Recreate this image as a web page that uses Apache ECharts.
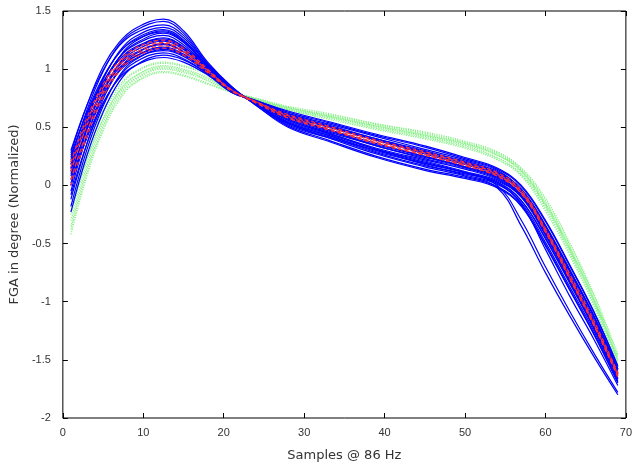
<!DOCTYPE html>
<html>
<head>
<meta charset="utf-8">
<script src="https://cdn.jsdelivr.net/npm/echarts@6/dist/echarts.min.js"></script>
<style>
  html, body { margin: 0; padding: 0; background: #fff; }
  #chart { width: 635px; height: 469px; }
</style>
</head>
<body>
<div id="chart"></div>
<script>
// sample positions shared by every curve
const samples = [1, 3, 5, 7, 9, 12.5, 15, 18, 21, 24, 28, 33, 39, 45, 50, 54, 57, 60, 63, 66, 69];

const xTicks = [0, 10, 20, 30, 40, 50, 60, 70];
const yTicks = [-2, -1.5, -1, -0.5, 0, 0.5, 1, 1.5];

// blue solid curves
const blueCurves = [
    [0.28, 0.69, 1.02, 1.23, 1.35, 1.43, 1.33, 1.06, 0.85, 0.69, 0.50, 0.38, 0.24, 0.13, 0.06, -0.02, -0.18, -0.52, -0.90, -1.28, -1.70],
    [0.22, 0.65, 0.98, 1.21, 1.33, 1.41, 1.31, 1.05, 0.85, 0.69, 0.51, 0.39, 0.25, 0.14, 0.07, -0.01, -0.17, -0.51, -0.89, -1.27, -1.69],
    [0.30, 0.69, 0.99, 1.20, 1.31, 1.38, 1.29, 1.04, 0.84, 0.70, 0.52, 0.41, 0.30, 0.18, 0.09, 0.01, -0.15, -0.49, -0.87, -1.25, -1.68],
    [0.12, 0.57, 0.91, 1.15, 1.28, 1.36, 1.27, 1.04, 0.84, 0.70, 0.53, 0.42, 0.28, 0.17, 0.10, 0.02, -0.16, -0.55, -0.95, -1.32, -1.72],
    [0.18, 0.60, 0.92, 1.14, 1.26, 1.34, 1.25, 1.03, 0.84, 0.70, 0.54, 0.43, 0.29, 0.19, 0.11, 0.03, -0.13, -0.46, -0.84, -1.23, -1.66],
    [0.24, 0.63, 0.93, 1.14, 1.25, 1.32, 1.23, 1.02, 0.83, 0.70, 0.53, 0.41, 0.27, 0.16, 0.08, -0.02, -0.35, -0.75, -1.12, -1.47, -1.80],
    [0.05, 0.50, 0.86, 1.10, 1.22, 1.31, 1.23, 1.02, 0.83, 0.70, 0.55, 0.44, 0.31, 0.21, 0.12, 0.04, -0.10, -0.40, -0.78, -1.17, -1.61],
    [0.15, 0.56, 0.88, 1.10, 1.21, 1.29, 1.21, 1.01, 0.83, 0.71, 0.56, 0.45, 0.32, 0.22, 0.14, 0.05, -0.10, -0.43, -0.81, -1.20, -1.64],
    [-0.05, 0.43, 0.79, 1.05, 1.18, 1.27, 1.19, 1.01, 0.83, 0.71, 0.57, 0.46, 0.34, 0.23, 0.15, 0.06, -0.09, -0.41, -0.79, -1.18, -1.63],
    [0.20, 0.58, 0.88, 1.08, 1.19, 1.26, 1.19, 1.00, 0.82, 0.71, 0.56, 0.45, 0.31, 0.20, 0.11, 0.00, -0.30, -0.70, -1.08, -1.44, -1.78],
    [0.08, 0.50, 0.82, 1.04, 1.16, 1.24, 1.17, 1.00, 0.82, 0.71, 0.58, 0.48, 0.36, 0.25, 0.16, 0.08, -0.08, -0.39, -0.77, -1.16, -1.61],
    [-0.12, 0.36, 0.74, 0.99, 1.13, 1.22, 1.15, 0.99, 0.82, 0.72, 0.59, 0.51, 0.39, 0.27, 0.18, 0.09, -0.06, -0.38, -0.76, -1.15, -1.60],
    [0.14, 0.53, 0.82, 1.03, 1.14, 1.21, 1.15, 0.99, 0.82, 0.72, 0.59, 0.48, 0.34, 0.24, 0.16, 0.07, -0.09, -0.42, -0.82, -1.22, -1.66],
    [0.00, 0.43, 0.76, 0.99, 1.11, 1.19, 1.13, 0.98, 0.81, 0.72, 0.60, 0.50, 0.39, 0.28, 0.19, 0.10, -0.05, -0.36, -0.74, -1.13, -1.59],
    [-0.18, 0.31, 0.68, 0.94, 1.08, 1.17, 1.12, 0.97, 0.81, 0.72, 0.61, 0.51, 0.40, 0.30, 0.20, 0.11, -0.04, -0.35, -0.73, -1.12, -1.58],
    [0.10, 0.48, 0.78, 0.98, 1.09, 1.16, 1.11, 0.97, 0.81, 0.72, 0.61, 0.52, 0.40, 0.29, 0.21, 0.12, -0.03, -0.34, -0.72, -1.12, -1.58],
    [-0.08, 0.36, 0.70, 0.93, 1.06, 1.14, 1.09, 0.96, 0.81, 0.73, 0.62, 0.53, 0.42, 0.31, 0.22, 0.13, -0.04, -0.37, -0.77, -1.18, -1.62],
    [-0.23, 0.26, 0.63, 0.89, 1.03, 1.12, 1.08, 0.96, 0.80, 0.73, 0.63, 0.54, 0.43, 0.33, 0.23, 0.14, -0.01, -0.31, -0.69, -1.09, -1.56],
    [0.02, 0.41, 0.71, 0.92, 1.03, 1.10, 1.06, 0.95, 0.80, 0.73, 0.64, 0.55, 0.44, 0.34, 0.24, 0.15, 0.00, -0.30, -0.68, -1.08, -1.55],
    [0.00, 0.48, 0.85, 1.10, 1.24, 1.33, 1.24, 1.03, 0.84, 0.70, 0.54, 0.43, 0.30, 0.19, 0.11, 0.03, -0.13, -0.45, -0.83, -1.22, -1.66],
    [0.26, 0.62, 0.89, 1.08, 1.18, 1.25, 1.18, 1.00, 0.82, 0.71, 0.58, 0.47, 0.35, 0.25, 0.16, 0.07, -0.08, -0.40, -0.78, -1.17, -1.62],
    [0.18, 0.54, 0.82, 1.01, 1.11, 1.18, 1.12, 0.97, 0.81, 0.72, 0.61, 0.51, 0.39, 0.29, 0.20, 0.11, -0.04, -0.35, -0.73, -1.12, -1.58]
];

// red dashed curves
const redCurves = [
    [0.20, 0.58, 0.87, 1.07, 1.18, 1.25, 1.18, 1.00, 0.82, 0.71, 0.58, 0.48, 0.36, 0.26, 0.17, 0.08, -0.07, -0.40, -0.80, -1.20, -1.64],
    [0.12, 0.52, 0.82, 1.03, 1.14, 1.22, 1.15, 0.99, 0.82, 0.72, 0.59, 0.49, 0.37, 0.27, 0.18, 0.09, -0.06, -0.39, -0.79, -1.19, -1.63],
    [0.05, 0.46, 0.79, 1.00, 1.12, 1.20, 1.14, 0.98, 0.82, 0.72, 0.60, 0.50, 0.38, 0.28, 0.19, 0.10, -0.05, -0.38, -0.78, -1.18, -1.62],
    [0.00, 0.42, 0.76, 0.98, 1.10, 1.18, 1.12, 0.97, 0.81, 0.72, 0.61, 0.51, 0.39, 0.29, 0.20, 0.11, -0.04, -0.37, -0.76, -1.16, -1.61],
    [0.16, 0.55, 0.84, 1.05, 1.16, 1.23, 1.16, 0.99, 0.82, 0.71, 0.58, 0.48, 0.36, 0.26, 0.17, 0.08, -0.07, -0.40, -0.80, -1.20, -1.65]
];

// green dotted curves
const greenCurves = [
    [-0.10, 0.32, 0.64, 0.86, 0.98, 1.06, 1.03, 0.96, 0.81, 0.73, 0.65, 0.57, 0.48, 0.40, 0.32, 0.22, 0.08, -0.22, -0.60, -1.04, -1.56],
    [-0.18, 0.26, 0.61, 0.84, 0.97, 1.05, 1.02, 0.95, 0.81, 0.73, 0.65, 0.58, 0.49, 0.41, 0.33, 0.23, 0.09, -0.20, -0.58, -1.02, -1.54],
    [-0.25, 0.21, 0.57, 0.81, 0.94, 1.03, 1.00, 0.93, 0.81, 0.74, 0.66, 0.59, 0.50, 0.42, 0.34, 0.24, 0.10, -0.18, -0.56, -1.00, -1.52],
    [-0.30, 0.17, 0.54, 0.79, 0.92, 1.01, 0.98, 0.91, 0.81, 0.74, 0.66, 0.59, 0.51, 0.43, 0.35, 0.26, 0.12, -0.17, -0.55, -0.99, -1.51],
    [-0.35, 0.14, 0.51, 0.77, 0.91, 1.00, 0.97, 0.90, 0.80, 0.74, 0.67, 0.60, 0.52, 0.44, 0.36, 0.27, 0.13, -0.15, -0.53, -0.97, -1.49],
    [-0.38, 0.11, 0.49, 0.75, 0.89, 0.98, 0.95, 0.88, 0.80, 0.75, 0.67, 0.61, 0.53, 0.45, 0.37, 0.28, 0.14, -0.13, -0.51, -0.95, -1.47],
    [-0.42, 0.08, 0.47, 0.73, 0.88, 0.97, 0.94, 0.87, 0.80, 0.75, 0.68, 0.62, 0.53, 0.46, 0.38, 0.29, 0.15, -0.11, -0.49, -0.93, -1.45],
    [-0.22, 0.23, 0.57, 0.81, 0.94, 1.02, 0.99, 0.92, 0.81, 0.74, 0.67, 0.60, 0.51, 0.43, 0.36, 0.26, 0.12, -0.16, -0.54, -0.98, -1.50]
];

const chart = echarts.init(document.getElementById('chart'));

const toPoints = (vals) => samples.map((x, i) => [x, vals[i]]);

function makeSeries(curves, color, type, width) {
    return curves.map((c) => ({
        type: 'line',
        data: toPoints(c),
        smooth: 0.4,
        showSymbol: false,
        silent: true,
        lineStyle: { color: color, width: width, type: type }
    }));
}

const tickFont = { color: '#333', fontSize: 11, fontFamily: 'Liberation Sans' };
const tickStyle = { show: true, inside: true, length: 5, lineStyle: { color: '#000' } };

chart.setOption({
    animation: false,
    grid: {
        left: 57, right: 8, top: 11, bottom: 51,
        show: true, borderColor: '#000', borderWidth: 1
    },
    xAxis: [
        {
            type: 'value', min: 0, max: 70, interval: 10,
            axisLine: { show: false, onZero: false },
            axisTick: tickStyle,
            axisLabel: Object.assign({ margin: 9 }, tickFont),
            splitLine: { show: false },
            name: 'Samples @ 86 Hz',
            nameLocation: 'middle',
            nameGap: 31,
            nameTextStyle: { color: '#333', fontSize: 13, fontFamily: 'DejaVu Sans' }
        },
        {
            type: 'value', min: 0, max: 70, interval: 10, position: 'top',
            axisLine: { show: false, onZero: false },
            axisTick: tickStyle,
            axisLabel: { show: false },
            splitLine: { show: false }
        }
    ],
    yAxis: [
        {
            type: 'value', min: -2, max: 1.5, interval: 0.5,
            axisLine: { show: false, onZero: false },
            axisTick: tickStyle,
            axisLabel: Object.assign({ margin: 12 }, tickFont),
            splitLine: { show: false },
            name: 'FGA in degree (Normalized)',
            nameLocation: 'middle',
            nameGap: 36,
            nameTextStyle: { color: '#333', fontSize: 13, fontFamily: 'DejaVu Sans' }
        },
        {
            type: 'value', min: -2, max: 1.5, interval: 0.5, position: 'right',
            axisLine: { show: false, onZero: false },
            axisTick: tickStyle,
            axisLabel: { show: false },
            splitLine: { show: false }
        }
    ],
    series: [
        ...makeSeries(greenCurves, '#86f086', 'dotted', 1.2),
        ...makeSeries(blueCurves, '#0000ff', 'solid', 1.2),
        ...makeSeries(redCurves, '#ff3030', [4, 3], 1.2)
    ]
});
</script>
</body>
</html>
